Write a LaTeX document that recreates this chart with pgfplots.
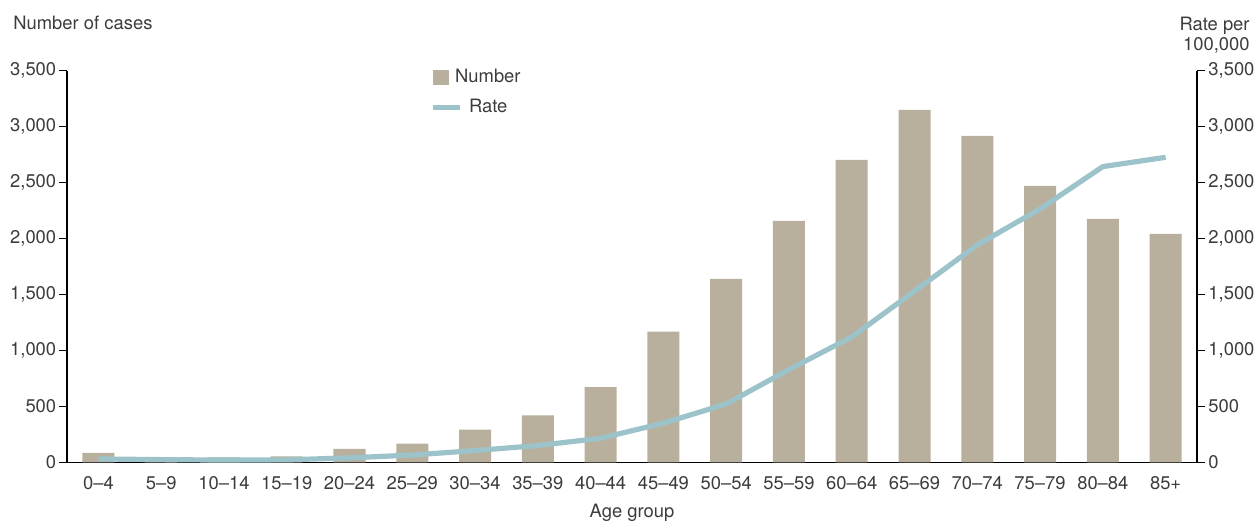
\documentclass[border=0pt]{standalone}
\usepackage{fontspec}
\setmainfont{TeX Gyre Heros}
\usepackage{pgfplots}
\pgfplotsset{compat=1.18}
\definecolor{barcol}{HTML}{B8AF9C}
\definecolor{linecol}{HTML}{9CC3C9}
\definecolor{txt}{HTML}{3C3C3C}
\newcommand{\fs}{\fontsize{9.2}{10}\selectfont}
\pgfplotsset{
  common/.style={
    scale only axis, width=565pt, height=195.8pt,
    at={(0pt,0pt)}, anchor=south west,
    xmin=-0.5, xmax=17.5, ymin=0, ymax=3500,
    ytick={0,500,...,3500},
    tick align=outside,
    major tick length=4pt,
    minor tick length=4pt,
    axis line style={black, line width=0.7pt},
    tick style={black, line width=0.7pt},
    /pgf/number format/.cd, 1000 sep={,}, assume math mode=true,
    /pgfplots/.cd,
    tick label style={font=\fs, text=txt},
  }
}
\begin{document}
\begin{tikzpicture}
\path[use as bounding box] (-33.5pt,-28.85pt) rectangle (594.5pt,231.15pt);
\begin{axis}[common, name=main,
  axis x line*=bottom, axis y line*=left,
  xtick={0,...,17},
  xticklabels={0--4,5--9,10--14,15--19,20--24,25--29,30--34,35--39,40--44,45--49,50--54,55--59,60--64,65--69,70--74,75--79,80--84,85+},
  x tick style={draw=none},
  minor xtick={-0.5,0.5,...,17.5},
  minor x tick style={black, line width=0.7pt},
  xticklabel style={inner sep=0pt, yshift=-2.8pt},
  yticklabel style={inner sep=0pt, xshift=-1.2pt},
  legend style={at={(0.3212,1.004)}, anchor=north west, draw=none, fill=none,
    inner sep=0pt, outer sep=0pt, row sep=7pt, column sep=3.5pt,
    font=\fs, text=txt, nodes={inner sep=0pt}},
  legend cell align=left,
  clip=false,
]
\addplot[ybar, bar width=0.51, fill=barcol, draw=none,
  legend image code/.code={\fill[barcol] (0pt,-3.75pt) rectangle (8pt,3.75pt);}]
  coordinates {(0,84) (1,45) (2,45) (3,54) (4,120) (5,166) (6,292) (7,419) (8,672)
  (9,1167) (10,1640) (11,2158) (12,2702) (13,3149) (14,2917) (15,2470) (16,2176) (17,2042)};
\addlegendentry{\hspace*{-7pt}Number}
\addplot[linecol, line width=2.6pt, line join=round,
  legend image code/.code={\draw[linecol, line width=2.6pt] (0pt,0pt) -- (13.5pt,0pt);}]
  coordinates {(0,30) (1,24) (2,20) (3,22) (4,40) (5,65) (6,105) (7,150) (8,215)
  (9,350) (10,521) (11,829) (12,1120) (13,1530) (14,1943) (15,2265) (16,2643) (17,2726)};
\addlegendentry{Rate}
\node[anchor=west, font=\fs, text=txt, inner sep=0pt] at ([xshift=-27pt, yshift=24pt]rel axis cs:0,1) {Number of cases};
\node[anchor=east, align=right, font=\fs, text=txt, inner sep=0pt] at ([xshift=26.5pt, yshift=17.8pt]rel axis cs:1,1) {Rate per\\100,000};
\node[anchor=center, font=\fs, text=txt, inner sep=0pt] at ([yshift=-25.3pt]rel axis cs:0.5,0) {Age group};
\end{axis}
\begin{axis}[common,
  axis x line=none, axis y line*=right,
  yticklabel style={inner sep=0pt, xshift=1.5pt},
]
\end{axis}
\end{tikzpicture}
\end{document}
